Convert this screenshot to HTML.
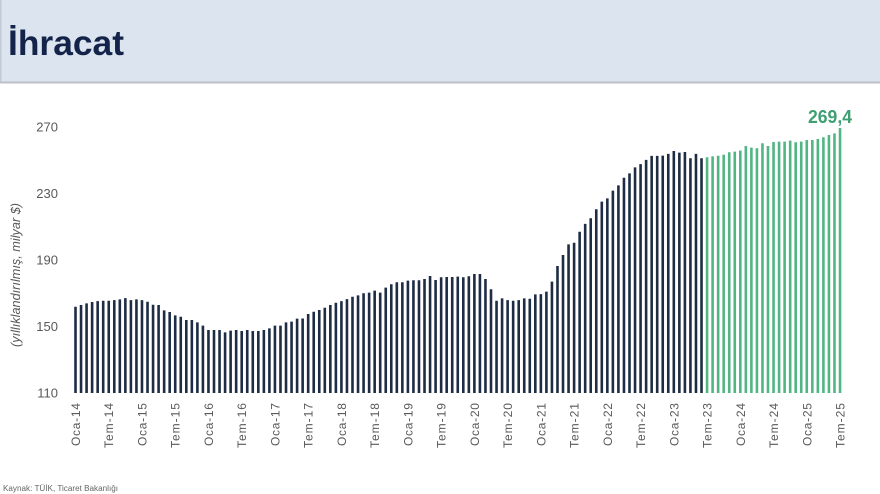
<!DOCTYPE html>
<html>
<head>
<meta charset="utf-8">
<style>
html,body{margin:0;padding:0;background:#fff;}
svg{display:block;}
text{font-family:"Liberation Sans","DejaVu Sans",sans-serif;}
</style>
</head>
<body>
<svg width="880" height="494" viewBox="0 0 880 494" xmlns="http://www.w3.org/2000/svg">
<rect x="0" y="0" width="880" height="494" fill="#fff"/>
<rect x="0" y="0" width="880" height="82" fill="#dce4ef"/>
<rect x="0" y="0" width="1.5" height="82" fill="#c3cad6"/>
<rect x="0" y="81.5" width="880" height="2" fill="#bcc1c9"/>
<text x="8" y="55" font-size="35" font-weight="bold" fill="#14234a" textLength="116" lengthAdjust="spacingAndGlyphs">İhracat</text>

<g font-size="13" fill="#595959" text-anchor="end">
<text x="58" y="131.5">270</text>
<text x="58" y="198">230</text>
<text x="58" y="264.5">190</text>
<text x="58" y="331">150</text>
<text x="58" y="397.5">110</text>
</g>
<text transform="translate(20,275) rotate(-90)" text-anchor="middle" font-size="12.5" font-style="italic" fill="#595959" textLength="144" lengthAdjust="spacingAndGlyphs">(yıllıklandırılmış, milyar $)</text>

<g transform="translate(75.5,393) scale(5.54,-1.6625)" fill="none" stroke-width="2.6">
<path vector-effect="non-scaling-stroke" stroke="#1e2c44" d="M0 0v51.9M1 0v52.9M2 0v53.9M3 0v54.7M4 0v55.3M5 0v55.5M6 0v55.5M7 0v55.9M8 0v56.3M9 0v57.1M10 0v55.9M11 0v56.3M12 0v55.9M13 0v54.9M14 0v53.1M15 0v52.9M16 0v49.7M17 0v48.7M18 0v46.7M19 0v45.9M20 0v43.9M21 0v43.9M22 0v42.5M23 0v40.5M24 0v37.9M25 0v37.9M26 0v37.9M27 0v36.5M28 0v37.5M29 0v37.9M30 0v37.3M31 0v37.9M32 0v37.3M33 0v37.3M34 0v37.9M35 0v38.9M36 0v40.5M37 0v40.5M38 0v42.5M39 0v42.9M40 0v44.7M41 0v44.8M42 0v47.5M43 0v48.9M44 0v49.9M45 0v51.3M46 0v52.9M47 0v54.3M48 0v55.3M49 0v56.5M50 0v57.9M51 0v58.7M52 0v60M53 0v60.4M54 0v61.6M55 0v60.4M56 0v63.4M57 0v65.4M58 0v66.6M59 0v66.6M60 0v67.6M61 0v67.8M62 0v67.8M63 0v68.6M64 0v70.4M65 0v68M66 0v69.6M67 0v69.8M68 0v69.8M69 0v70M70 0v69.6M71 0v70.2M72 0v71.6M73 0v71.6M74 0v68.6M75 0v62.4M76 0v55.5M77 0v56.9M78 0v55.9M79 0v55.5M80 0v55.9M81 0v56.9M82 0v56.7M83 0v59.3M84 0v59.5M85 0v61M86 0v67M87 0v76.4M88 0v83M89 0v89.4M90 0v90.4M91 0v97M92 0v101.7M93 0v105.1M94 0v110.5M95 0v115.1M96 0v117.1M97 0v121.7M98 0v124.9M99 0v129.5M100 0v132.1M101 0v135.7M102 0v137.7M103 0v140.2M104 0v142.6M105 0v142.6M106 0v142.8M107 0v143.8M108 0v145.6M109 0v144.6M110 0v145M111 0v141.2M112 0v143.8M113 0v141.2"/>
<path vector-effect="non-scaling-stroke" stroke="#52b584" d="M114 0v141.8M115 0v142.3M116 0v142.7M117 0v143.3M118 0v144.8M119 0v145.2M120 0v145.8M121 0v148.6M122 0v147.6M123 0v147.2M124 0v150.2M125 0v148.6M126 0v151M127 0v151.2M128 0v151.2M129 0v151.8M130 0v150.8M131 0v151.2M132 0v152.2M133 0v152.2M134 0v152.8M135 0v153.8M136 0v155.2M137 0v156.2M138 0v159.4"/>
</g>

<text x="808" y="123" font-size="18" font-weight="bold" fill="#3f9f72" textLength="44" lengthAdjust="spacingAndGlyphs">269,4</text>

<g font-size="12" fill="#595959" text-anchor="end" lengthAdjust="spacingAndGlyphs">
<text transform="translate(75.5,403) rotate(-90)" dy="4.5" textLength="43">Oca-14</text>
<text transform="translate(108.7,403) rotate(-90)" dy="4.5" textLength="45">Tem-14</text>
<text transform="translate(142,403) rotate(-90)" dy="4.5" textLength="43">Oca-15</text>
<text transform="translate(175.2,403) rotate(-90)" dy="4.5" textLength="45">Tem-15</text>
<text transform="translate(208.5,403) rotate(-90)" dy="4.5" textLength="43">Oca-16</text>
<text transform="translate(241.7,403) rotate(-90)" dy="4.5" textLength="45">Tem-16</text>
<text transform="translate(274.9,403) rotate(-90)" dy="4.5" textLength="43">Oca-17</text>
<text transform="translate(308.2,403) rotate(-90)" dy="4.5" textLength="45">Tem-17</text>
<text transform="translate(341.4,403) rotate(-90)" dy="4.5" textLength="43">Oca-18</text>
<text transform="translate(374.7,403) rotate(-90)" dy="4.5" textLength="45">Tem-18</text>
<text transform="translate(407.9,403) rotate(-90)" dy="4.5" textLength="43">Oca-19</text>
<text transform="translate(441.1,403) rotate(-90)" dy="4.5" textLength="45">Tem-19</text>
<text transform="translate(474.4,403) rotate(-90)" dy="4.5" textLength="43">Oca-20</text>
<text transform="translate(507.6,403) rotate(-90)" dy="4.5" textLength="45">Tem-20</text>
<text transform="translate(540.9,403) rotate(-90)" dy="4.5" textLength="43">Oca-21</text>
<text transform="translate(574.1,403) rotate(-90)" dy="4.5" textLength="45">Tem-21</text>
<text transform="translate(607.4,403) rotate(-90)" dy="4.5" textLength="43">Oca-22</text>
<text transform="translate(640.6,403) rotate(-90)" dy="4.5" textLength="45">Tem-22</text>
<text transform="translate(673.8,403) rotate(-90)" dy="4.5" textLength="43">Oca-23</text>
<text transform="translate(707.1,403) rotate(-90)" dy="4.5" textLength="45">Tem-23</text>
<text transform="translate(740.3,403) rotate(-90)" dy="4.5" textLength="43">Oca-24</text>
<text transform="translate(773.6,403) rotate(-90)" dy="4.5" textLength="45">Tem-24</text>
<text transform="translate(806.8,403) rotate(-90)" dy="4.5" textLength="43">Oca-25</text>
<text transform="translate(840,403) rotate(-90)" dy="4.5" textLength="45">Tem-25</text>
</g>

<text x="3" y="491" font-size="8" fill="#666" textLength="115" lengthAdjust="spacingAndGlyphs">Kaynak: TÜİK, Ticaret Bakanlığı</text>
</svg>
</body>
</html>
